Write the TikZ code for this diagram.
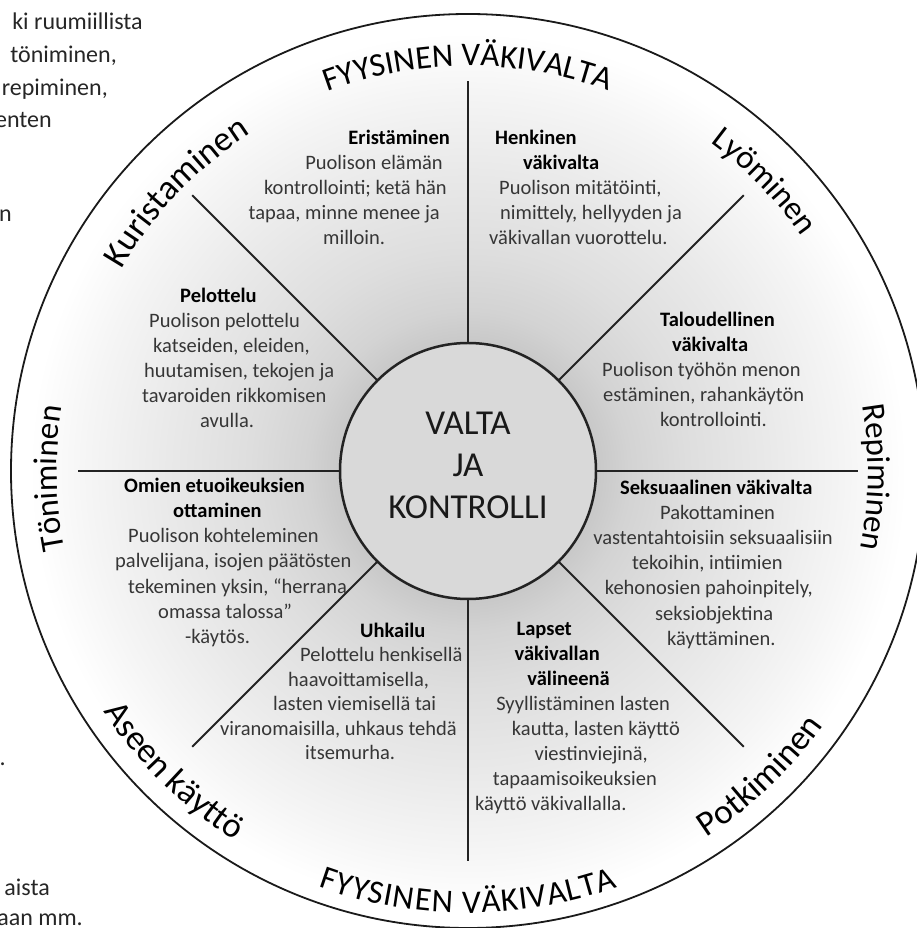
\documentclass[tikz,border=0pt]{standalone}
\usepackage{fontspec}
\setmainfont{Carlito}
\usetikzlibrary{decorations.text}
\definecolor{bodytxt}{HTML}{363636}
\definecolor{fragtxt}{HTML}{262626}
\definecolor{rimline}{HTML}{1A1A1A}
\definecolor{spokeline}{HTML}{232323}
\definecolor{corefill}{HTML}{D9D9D9}
\definecolor{shadeA}{HTML}{C8C8C8}
\definecolor{shadeB}{HTML}{D3D3D3}
\definecolor{shadeC}{HTML}{DEDEDE}
\definecolor{shadeD}{HTML}{E9E9E9}
\definecolor{shadeE}{HTML}{F5F5F5}
\pgfdeclareradialshading{wheelshade}{\pgfpoint{0bp}{0bp}}{color(0bp)=(corefill); color(7bp)=(shadeA); color(8.8bp)=(shadeB); color(12bp)=(shadeC); color(16.4bp)=(shadeD); color(20.8bp)=(shadeE); color(24bp)=(white); color(50bp)=(white)}
\newcommand\bodyfnt{\fontsize{20.5}{25}\selectfont}
\newcommand\rimfnt{\fontsize{33}{40}\selectfont}
\newcommand\rimbigfnt{\fontsize{35}{42}\selectfont}
\newcommand\fragfnt{\fontsize{24}{33}\selectfont}
\newcommand\corefnt{\fontsize{35}{42}\selectfont}
\begin{document}
\begin{tikzpicture}[x=1pt,y=1pt,
  bodyln/.style={font=\bodyfnt, text=bodytxt, inner sep=0pt},
  headln/.style={font=\bodyfnt\bfseries, text=black, inner sep=0pt},
  fragln/.style={font=\fragfnt, text=fragtxt, inner sep=0pt, anchor=base east},
  spoke/.style={draw=spokeline, line width=2pt}]
\useasboundingbox (-468,-457) rectangle (449,471);
\clip (-468,-457) rectangle (449,471);

% background text fragments (image coordinates)
\begin{scope}[shift={(-468,471)}, yscale=-1]
  \node[fragln] (f1) at (143,30) {ki ruumiillista};
  \node[fragln] (f2) at (117,63) {töniminen,};
  \node[fragln] (f3) at (108,96) {repiminen,};
  \node[fragln] (f4) at (52,128) {enten};
  \node[fragln] (f5) at (12,222) {n};
  \node[fragln] (f6) at (6,765) {.};
  \node[fragln] (f7) at (50,895) {aista};
  \node[fragln] (f8) at (83,925) {aan mm.};
\end{scope}

% wheel
\shade[shading=wheelshade] (0,0) circle[radius=457];
\draw[rimline, line width=1.8pt] (0,0) circle[radius=457];

\node[circle, minimum size=256pt, inner sep=0pt, outer sep=0pt] (core) at (0,0) {};
\foreach \a in {0,45,...,315} {
  \coordinate (sp\a) at (\a:390);
  \draw[spoke] (core.\a) -- (sp\a);
}
\node[circle, minimum size=256pt, inner sep=0pt, fill=corefill, draw=spokeline, line width=2.5pt] (corering) at (0,0) {};
\node[font=\corefnt, text=black!90, align=center, inner sep=0pt] (title) at (0,6) {VALTA\\JA\\KONTROLLI};

% rim labels
\path[decorate, decoration={text along path, text align=center, text={|\rimfnt|FYYSINEN VÄKIVALTA}}] (150:405) arc[start angle=150, end angle=30, radius=405];
\path[decorate, decoration={text along path, text align=center, text={|\rimfnt|Lyöminen}}] (104.3:408) arc[start angle=104.3, end angle=-15.7, radius=408];
\path[decorate, decoration={text along path, text align=center, text={|\rimfnt|Repiminen}}] (59.1:400) arc[start angle=59.1, end angle=-60.9, radius=400];
\path[decorate, decoration={text along path, text align=center, text={|\rimfnt|Töniminen}}] (241:411) arc[start angle=241, end angle=121, radius=411];
\path[decorate, decoration={text along path, text align=center, text={|\rimbigfnt|Kuristaminen}}] (196.3:401) arc[start angle=196.3, end angle=76.3, radius=401];
\path[decorate, decoration={text along path, text align={fit to path}, text={|\rimfnt|FYYSINEN VÄKIVALTA}}] (250.2:442) arc[start angle=250.2, end angle=289.8, radius=442];
\path[decorate, decoration={text along path, text align=center, text={|\rimbigfnt|Aseen käyttö}}] (165.6:437) arc[start angle=165.6, end angle=285.6, radius=437];
\path[decorate, decoration={text along path, text align=center, text={|\rimbigfnt|Potkiminen}}] (253.7:437) arc[start angle=253.7, end angle=373.7, radius=437];

% sector texts (image coordinates)
\begin{scope}[shift={(-468,471)}, yscale=-1]
  \node[headln, anchor=base east] (e0) at (450,145) {Eristäminen};
  \node[bodyln, anchor=base east] (e1) at (443,170) {Puolison elämän};
  \node[bodyln, anchor=base east] (e2) at (447,195) {kontrollointi; ketä hän};
  \node[bodyln, anchor=base east] (e3) at (440,220) {tapaa, minne menee ja};
  \node[bodyln, anchor=base west] (e4) at (323,245) {milloin.};

  \node[headln, anchor=base west] (h0) at (495,145) {Henkinen};
  \node[headln, anchor=base west] (h1) at (523,170) {väkivalta};
  \node[bodyln, anchor=base west] (h2) at (499,195) {Puolison mitätöinti,};
  \node[bodyln, anchor=base west] (h3) at (500,220) {nimittely, hellyyden ja};
  \node[bodyln, anchor=base west] (h4) at (489,245) {väkivallan vuorottelu.};

  \node[headln, anchor=base west] (p0) at (180,303) {Pelottelu};
  \node[bodyln, anchor=base west] (p1) at (149,328) {Puolison pelottelu};
  \node[bodyln, anchor=base west] (p2) at (153,353) {katseiden, eleiden,};
  \node[bodyln, anchor=base west] (p3) at (144,378) {huutamisen, tekojen ja};
  \node[bodyln, anchor=base west] (p4) at (142,403) {tavaroiden rikkomisen};
  \node[bodyln, anchor=base west] (p5) at (200,428) {avulla.};

  \node[headln, anchor=base west] (t0) at (660,327) {Taloudellinen};
  \node[headln, anchor=base west] (t1) at (672,352) {väkivalta};
  \node[bodyln, anchor=base west] (t2) at (602,377) {Puolison työhön menon};
  \node[bodyln, anchor=base west] (t3) at (603,402) {estäminen, rahankäytön};
  \node[bodyln, anchor=base west] (t4) at (660,427) {kontrollointi.};

  \node[headln, anchor=base west] (s0) at (620,495) {Seksuaalinen väkivalta};
  \node[bodyln, anchor=base west] (s1) at (660,520) {Pakottaminen};
  \node[bodyln, anchor=base east] (s2) at (833,545) {vastentahtoisiin seksuaalisiin};
  \node[bodyln, anchor=base west] (s3) at (632,570) {tekoihin, intiimien};
  \node[bodyln, anchor=base east] (s4) at (813,595) {kehonosien pahoinpitely,};
  \node[bodyln, anchor=base west] (s5) at (655,620) {seksiobjektina};
  \node[bodyln, anchor=base west] (s6) at (667,645) {käyttäminen.};

  \node[headln, anchor=base west] (o0) at (124,493) {Omien etuoikeuksien};
  \node[headln, anchor=base west] (o1) at (173,518) {ottaminen};
  \node[bodyln, anchor=base west] (o2) at (128,543) {Puolison kohteleminen};
  \node[bodyln, anchor=base west] (o3) at (115,568) {palvelijana, isojen päätösten};
  \node[bodyln, anchor=base west] (o4) at (128,593) {tekeminen yksin, “herrana};
  \node[bodyln, anchor=base west] (o5) at (158,618) {omassa talossa”};
  \node[bodyln, anchor=base west] (o6) at (185,643) {-käytös.};

  \node[headln, anchor=base west] (u0) at (360,637) {Uhkailu};
  \node[bodyln, anchor=base west] (u1) at (300,661.5) {Pelottelu henkisellä};
  \node[bodyln, anchor=base west] (u2) at (288,686) {haavoittamisella,};
  \node[bodyln, anchor=base west] (u3) at (273,710.5) {lasten viemisellä tai};
  \node[bodyln, anchor=base west] (u4) at (220,735) {viranomaisilla, uhkaus tehdä};
  \node[bodyln, anchor=base west] (u5) at (305,759.5) {itsemurha.};

  \node[headln, anchor=base east] (l0) at (572,635) {Lapset};
  \node[headln, anchor=base east] (l1) at (600,660) {väkivallan};
  \node[headln, anchor=base east] (l2) at (610,685) {välineenä};
  \node[bodyln, anchor=base east] (l3) at (670,710) {Syyllistäminen lasten};
  \node[bodyln, anchor=base east] (l4) at (680,735) {kautta, lasten käyttö};
  \node[bodyln, anchor=base east] (l5) at (648,760) {viestinviejinä,};
  \node[bodyln, anchor=base east] (l6) at (657,785) {tapaamisoikeuksien};
  \node[bodyln, anchor=base west] (l7) at (475,810) {käyttö väkivallalla.};
\end{scope}
\end{tikzpicture}
\end{document}
